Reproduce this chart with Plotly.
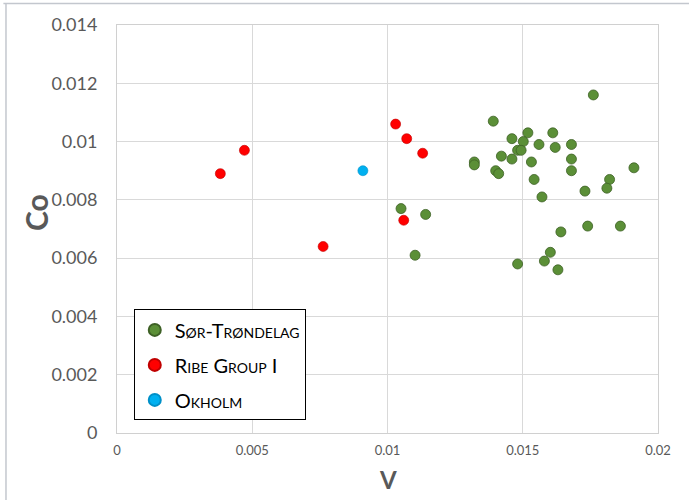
import plotly.graph_objects as go

# ---- data ----
sor_v = [0.01761, 0.01391, 0.01460, 0.01519, 0.01611, 0.01502, 0.01560, 0.01620,
         0.01680, 0.01481, 0.01494, 0.01421, 0.01460, 0.01532, 0.01680, 0.01321,
         0.01321, 0.01400, 0.01411, 0.01680, 0.01911, 0.01542, 0.01821, 0.01811,
         0.01730, 0.01571, 0.01141, 0.01740, 0.01861, 0.01641, 0.01602, 0.01580,
         0.01481, 0.01630, 0.01050, 0.01102]
sor_co = [0.0116, 0.0107, 0.0101, 0.0103, 0.0103, 0.0100, 0.0099, 0.0098,
          0.0099, 0.0097, 0.0097, 0.0095, 0.0094, 0.0093, 0.0094, 0.0093,
          0.0092, 0.0090, 0.0089, 0.0090, 0.0091, 0.0087, 0.0087, 0.0084,
          0.0083, 0.0081, 0.0075, 0.0071, 0.0071, 0.0069, 0.0062, 0.0059,
          0.0058, 0.0056, 0.0077, 0.0061]

ribe_v = [0.00471, 0.00382, 0.01030, 0.01071, 0.01130, 0.01060, 0.00762]
ribe_co = [0.0097, 0.0089, 0.0106, 0.0101, 0.0096, 0.0073, 0.0064]

okh_v = [0.00909]
okh_co = [0.0090]

x_ticks = [0, 0.005, 0.01, 0.015, 0.02]
x_tick_labels = ["0", "0.005", "0.01", "0.015", "0.02"]
y_ticks = [0, 0.002, 0.004, 0.006, 0.008, 0.01, 0.012, 0.014]
y_tick_labels = ["0", "0.002", "0.004", "0.006", "0.008", "0.01", "0.012", "0.014"]

series_names = ["Sør-Trøndelag", "Ribe Group I", "Okholm"]

FONT = "Lato"
GRID = "#d9d9d9"
TXT = "#595959"

fig = go.Figure()
fig.add_trace(go.Scatter(x=sor_v, y=sor_co, mode="markers", name=series_names[0],
                         legendgroup="a",
                         marker=dict(size=10, color="#5b8f37",
                                     line=dict(color="#3e6126", width=0.8))))
fig.add_trace(go.Scatter(x=ribe_v, y=ribe_co, mode="markers", name=series_names[1],
                         legendgroup="b",
                         marker=dict(size=10, color="#ff0000",
                                     line=dict(color="#c00000", width=0.6))))
fig.add_trace(go.Scatter(x=okh_v, y=okh_co, mode="markers", name=series_names[2],
                         legendgroup="c",
                         marker=dict(size=10, color="#00b0f0",
                                     line=dict(color="#0090c8", width=0.6))))

fig.update_layout(
    width=689, height=500,
    margin=dict(l=117, r=31, t=25, b=67),
    paper_bgcolor="white", plot_bgcolor="white",
    font=dict(family=FONT, color=TXT),
    showlegend=True,
    legend=dict(
        x=0.031, y=0.303, xanchor="left", yanchor="top",
        bordercolor="#000000", borderwidth=1, bgcolor="white",
        font=dict(family=FONT, size=20, color="#000000", variant="small-caps"),
        tracegroupgap=6, itemsizing="constant",
    ),
    xaxis=dict(
        range=[0, 0.02], tickvals=x_ticks, ticktext=x_tick_labels,
        showgrid=True, gridcolor=GRID, gridwidth=1,
        showline=True, linecolor="#d0d0d0", linewidth=1, mirror=True,
        zeroline=False, ticks="outside", ticklen=5, tickcolor="rgba(0,0,0,0)",
        tickfont=dict(family=FONT, size=13, color=TXT),
    ),
    yaxis=dict(
        range=[0, 0.014], tickvals=y_ticks, ticktext=y_tick_labels,
        showgrid=True, gridcolor=GRID, gridwidth=1,
        showline=True, linecolor="#d0d0d0", linewidth=1, mirror=True,
        zeroline=False, ticks="outside", ticklen=15, tickcolor="rgba(0,0,0,0)",
        tickfont=dict(family=FONT, size=18, color=TXT),
    ),
    annotations=[
        dict(text="<b>Co</b>", xref="paper", yref="paper", x=-0.1497, y=0.539,
             xanchor="center", yanchor="middle",
             showarrow=False, textangle=-90, font=dict(family=FONT, size=30, color=TXT)),
        dict(text="<b>V</b>", xref="paper", yref="paper", x=0.5, y=-0.115,
             xanchor="center", yanchor="middle",
             showarrow=False, font=dict(family=FONT, size=24, color=TXT)),
    ],
    shapes=[
        dict(type="line", xref="paper", yref="paper", x0=-0.21, x1=1.1, y0=1.0527, y1=1.0527,
             line=dict(color="#c3c7ce", width=1.5)),
        dict(type="line", xref="paper", yref="paper", x0=-0.2052, x1=-0.2052, y0=-0.2, y1=1.0527,
             line=dict(color="#c3c7ce", width=1.5)),
    ],
)

fig.write_html("out.html",
               config={"displayModeBar": False},
               post_script="document.body.style.margin='0';document.body.style.overflow='hidden';")
